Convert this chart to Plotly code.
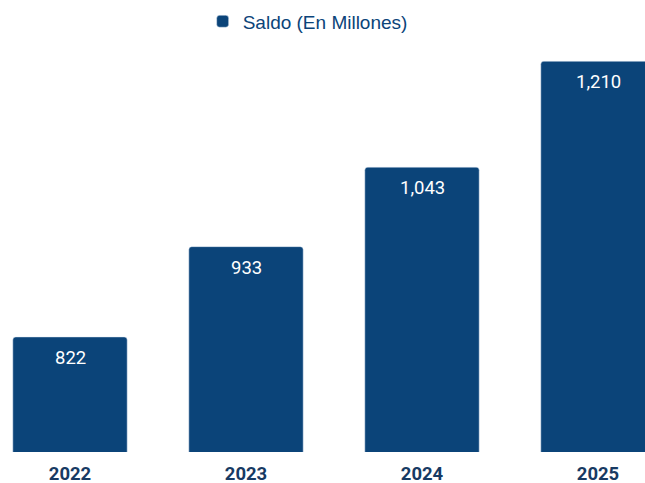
import math
import plotly.graph_objects as go

years = ["2022", "2023", "2024", "2025"]
saldo = [822, 933, 1043, 1210]
labels = ["822", "933", "1,043", "1,210"]

NAVY = "#0B4479"

# plot area geometry (px), y is log so the bar heights match the picture
TOP, BOTTOM = 40, 31
plot_h = 483 - TOP - BOTTOM
px_per_decade = 1643.4
y_lo = math.log10(699.5)
y_hi = y_lo + plot_h / px_per_decade

fig = go.Figure()
fig.add_trace(
    go.Bar(
        x=years,
        y=saldo,
        name="Saldo (En Millones)",
        marker={"color": NAVY, "cornerradius": 3},
        width=0.65,
    )
)

# value labels just under the top of each bar
for i, (val, lab) in enumerate(zip(saldo, labels)):
    fig.add_annotation(
        x=i, y=math.log10(val), xref="x", yref="y",
        text=lab, showarrow=False,
        yanchor="middle", yshift=-21,
        font={"color": "white", "size": 18.5, "family": "Roboto, sans-serif"},
    )

fig.update_layout(
    width=645,
    height=483,
    margin={"l": 0, "r": 0, "t": TOP, "b": BOTTOM},
    paper_bgcolor="white",
    plot_bgcolor="white",
    showlegend=True,
    legend={
        "orientation": "h",
        "x": 0.477,
        "xanchor": "center",
        "y": 0.995,
        "yanchor": "top",
        "yref": "container",
        "font": {"size": 19, "color": NAVY, "family": "Liberation Sans, Arial, sans-serif"},
    },
    font={"family": "Roboto, sans-serif"},
    xaxis={
        "type": "category",
        "range": [-70 / 176, (645 - 70) / 176],
        "automargin": False,
        "showgrid": False,
        "showline": False,
        "ticks": "",
        "tickfont": {"size": 18.5, "color": "#173A63", "family": "Roboto, sans-serif", "weight": "bold"},
        "ticklabelstandoff": 8,
    },
    yaxis={
        "type": "log",
        "range": [y_lo, y_hi],
        "visible": False,
    },
)

fig.write_html("out.html", post_script="document.body.style.margin='0';",
               config={"displayModeBar": False})
